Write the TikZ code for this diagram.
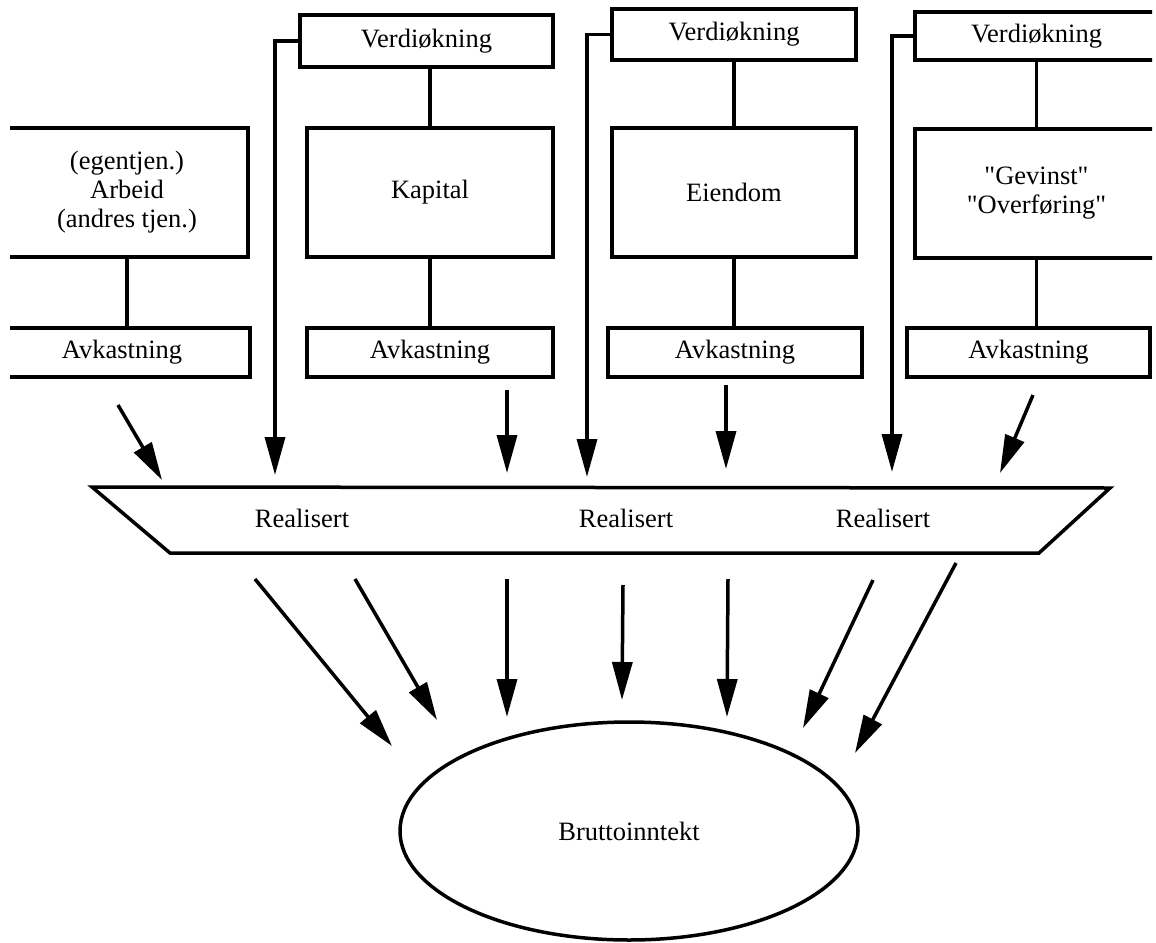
\documentclass[tikz,border=0pt]{standalone}
\usepackage{fontspec}
\setmainfont{Liberation Serif}
\usetikzlibrary{arrows.meta,shapes.geometric}

\begin{document}
\begin{tikzpicture}[%show background rectangle,
        x=1pt, y=-1pt,
        font=\fontsize{26.5}{29}\selectfont,
        boks/.style={draw, line width=3.5pt, inner sep=0pt, align=center},
        liten/.style={boks, minimum height=49pt},
        stor/.style={boks, minimum height=129pt},
        pil/.style={->, line width=3.5pt},
        >={Triangle[length=38pt,width=20pt]} % Pilspisser
        ]
            \useasboundingbox (0,0) rectangle (1156,942);
            \clip (10,0) rectangle (1152,942);

            % Bokser, rad for rad
            \node[boks, minimum width=253pt, minimum height=52pt] (verdi1) at (426.5,41)   {Verdiøkning};
            \node[boks, minimum width=244pt, minimum height=51pt] (verdi2) at (734,34.5)   {Verdiøkning};
            \node[boks, minimum width=243pt, minimum height=48pt] (verdi3) at (1036.5,36)  {Verdiøkning};

            \node[stor, minimum width=242pt] (arbeid)  at (127,192.5)    {(egentjen.)\\Arbeid\\(andres tjen.)};
            \node[stor, minimum width=246pt] (kapital) at (430,192.5)    {Kapital};
            \node[stor, minimum width=244pt] (eiendom) at (734,192.5)    {Eiendom};
            \node[stor, minimum width=243pt] (gevinst) at (1036.5,193.5) {\textquotedbl Gevinst\textquotedbl\\\textquotedbl Overføring\textquotedbl};

            \node[liten, minimum width=256pt] (avk1) at (122,352.5)    {Avkastning};
            \node[liten, minimum width=246pt] (avk2) at (430,352.5)    {Avkastning};
            \node[liten, minimum width=254pt] (avk3) at (735,352.5)    {Avkastning};
            \node[liten, minimum width=243pt] (avk4) at (1028.5,352.5) {Avkastning};

            % Loddrette streker
            \draw[line width=3.5pt]
                    (arbeid.south)  -- (arbeid.south |- avk1.north)
                    (kapital.north) -- (kapital.north |- verdi1.south)
                    (kapital.south) -- (kapital.south |- avk2.north)
                    (eiendom.north) -- (eiendom.north |- verdi2.south)
                    (eiendom.south) -- (eiendom.south |- avk3.north)
                    (gevinst.north) -- (gevinst.north |- verdi3.south)
                    (gevinst.south) -- (gevinst.south |- avk4.north);

            % Realisert
            \draw[line width=3.5pt] (92,487) -- (1110,488) -- (1039,553) -- (170,553) -- cycle;
            \node (real1) at (302,518) {Realisert};
            \node (real2) at (626,518) {Realisert};
            \node (real3) at (883,518) {Realisert};

            \node[draw, ellipse, line width=3.5pt, inner sep=0pt,
                  minimum width=458pt, minimum height=218pt] (brutto) at (629,831) {Bruttoinntekt};

            % Pilendepunkter
            \coordinate (s1) at (118,405);  \coordinate (t1) at (162,480);
            \coordinate (t2) at (275,475);
            \coordinate (s3) at (507,390);  \coordinate (t3) at (507,473);
            \coordinate (t4) at (587,477);
            \coordinate (s5) at (726,385);  \coordinate (t5) at (726,469);
            \coordinate (t6) at (892,472);
            \coordinate (s7) at (1033,395); \coordinate (t7) at (1000,473);

            \coordinate (u1) at (255,579);  \coordinate (v1) at (392,746);
            \coordinate (u2) at (355,579);  \coordinate (v2) at (437,720);
            \coordinate (u3) at (507,579);  \coordinate (v3) at (507,717);
            \coordinate (u4) at (623,585);  \coordinate (v4) at (622,700);
            \coordinate (u5) at (728,579);  \coordinate (v5) at (727,717);
            \coordinate (u6) at (873,580);  \coordinate (v6) at (803,728);
            \coordinate (u7) at (956,563);  \coordinate (v7) at (855,753);

            % Piler inn
            \draw[pil] (s1) -- (t1);
            \draw[pil] (verdi1.west) -| (t2);
            \draw[pil] (s3) -- (t3);
            \draw[pil] (verdi2.west) -| (t4);
            \draw[pil] (s5) -- (t5);
            \draw[pil] (verdi3.west) -| (t6);
            \draw[pil] (s7) -- (t7);

            % Piler ut
            \foreach \i in {1,...,7}
                \draw[pil] (u\i) -- (v\i);

        \end{tikzpicture}
\end{document}
